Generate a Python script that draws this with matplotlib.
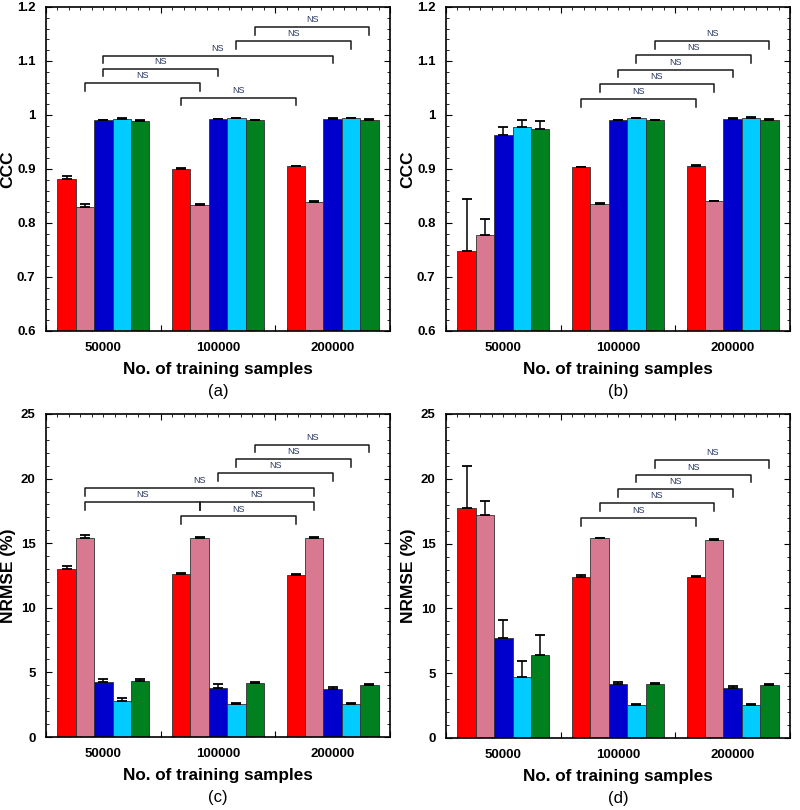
import numpy as np
import matplotlib
matplotlib.use('Agg')
import matplotlib.pyplot as plt

plt.rcParams['font.family'] = ['Liberation Sans', 'DejaVu Sans']

## dados
grupos = ['50000', '100000', '200000']
cores = ['#FF0000', '#D87891', '#0000CC', '#00CCFF', '#00801E']

# (a) CCC - linhas: metodos (vermelho, rosa, azul, ciano, verde), colunas: grupos
ccc_a = [[0.882, 0.900, 0.905],
         [0.830, 0.834, 0.839],
         [0.990, 0.992, 0.993],
         [0.993, 0.994, 0.994],
         [0.989, 0.990, 0.991]]
ccc_a_err = [[0.005, 0.002, 0.001],
             [0.006, 0.001, 0.001],
             [0.001, 0.001, 0.001],
             [0.001, 0.001, 0.001],
             [0.001, 0.001, 0.001]]

# (b) CCC
ccc_b = [[0.748, 0.903, 0.906],
         [0.777, 0.835, 0.840],
         [0.963, 0.990, 0.993],
         [0.978, 0.994, 0.995],
         [0.974, 0.990, 0.991]]
ccc_b_err = [[0.097, 0.001, 0.001],
             [0.030, 0.002, 0.001],
             [0.014, 0.001, 0.001],
             [0.012, 0.001, 0.001],
             [0.014, 0.001, 0.001]]

# (c) NRMSE
nrmse_c = [[13.04, 12.63, 12.53],
           [15.41, 15.41, 15.38],
           [4.28, 3.81, 3.74],
           [2.78, 2.53, 2.58],
           [4.33, 4.17, 4.02]]
nrmse_c_err = [[0.21, 0.10, 0.05],
               [0.21, 0.08, 0.08],
               [0.22, 0.26, 0.10],
               [0.22, 0.07, 0.05],
               [0.18, 0.10, 0.08]]

# (d) NRMSE
nrmse_d = [[17.74, 12.46, 12.44],
           [17.20, 15.41, 15.31],
           [7.74, 4.18, 3.82],
           [4.67, 2.54, 2.51],
           [6.38, 4.18, 4.10]]
nrmse_d_err = [[3.26, 0.10, 0.05],
               [1.06, 0.03, 0.07],
               [1.39, 0.12, 0.18],
               [1.30, 0.05, 0.08],
               [1.57, 0.05, 0.08]]

# comparacoes NS: (grupo inicial, grupo final, metodo, altura)
ns_a = [(1, 2, 4, 1.163), (1, 2, 3, 1.137), (0, 2, 2, 1.110),
        (0, 1, 2, 1.086), (0, 1, 1, 1.059), (1, 2, 0, 1.032)]
ns_b = [(1, 2, 4, 1.137), (1, 2, 3, 1.111), (1, 2, 2, 1.084),
        (1, 2, 1, 1.057), (1, 2, 0, 1.030)]
ns_c = [(1, 2, 4, 22.63), (1, 2, 3, 21.52), (1, 2, 2, 20.41),
        (0, 2, 1, 19.28), (0, 1, 1, 18.20), (1, 2, 1, 18.20), (1, 2, 0, 17.07)]
ns_d = [(1, 2, 4, 21.46), (1, 2, 3, 20.33), (1, 2, 2, 19.23),
        (1, 2, 1, 18.13), (1, 2, 0, 16.97)]

largura = 0.16


def painel(ax, medias, erros, ns, ylim, passo, minor, ylabel, letra):
    x = np.arange(len(grupos))
    for i in range(len(medias)):
        pos = x + (i - 2) * largura
        ax.bar(pos, medias[i], largura, color=cores[i], edgecolor='#333333', linewidth=0.6, zorder=2)
        ax.errorbar(pos, medias[i], yerr=[np.zeros(3), erros[i]], fmt='none', ecolor='black',
                    elinewidth=1.1, capsize=3.3, capthick=1.3, zorder=3)

    faixa = ylim[1] - ylim[0]
    for g1, g2, m, y in ns:
        x1 = g1 + (m - 2) * largura
        x2 = g2 + (m - 2) * largura
        d = 0.024 * faixa
        ax.plot([x1, x1, x2, x2], [y - d, y, y, y - d], color='#1a1a1a', lw=1.1, zorder=4)
        ax.text((x1 + x2) / 2, y + 0.009 * faixa, 'NS', ha='center', va='bottom',
                fontsize=6.5, color='#26365f')

    ax.set_xlim(-0.5, 2.45)
    ax.set_ylim(*ylim)
    ax.set_yticks(np.arange(ylim[0], ylim[1] + passo / 2, passo))
    ax.set_yticks(np.arange(ylim[0], ylim[1] + minor / 2, minor), minor=True)
    if passo < 1:
        ax.set_yticklabels(['%g' % v for v in np.round(np.arange(ylim[0], ylim[1] + passo / 2, passo), 2)])
    ax.set_xticks([-0.5, 0.5, 1.5, 2.5])
    ax.set_xticklabels([])
    ax.set_xticks(np.arange(-0.5, 2.46, 0.1), minor=True)
    ax.tick_params(axis='both', which='major', direction='in', length=4, width=0.8,
                   top=True, right=True, labelsize=9.5, pad=7.5)
    ax.tick_params(axis='both', which='minor', direction='in', length=2.2, width=0.6,
                   top=True, right=True)
    for lbl in ax.get_yticklabels():
        lbl.set_fontweight('bold')

    # rotulos dos grupos
    sec = ax.secondary_xaxis('bottom')
    sec.set_xticks(x, grupos)
    sec.tick_params(length=0, labelsize=9.5, pad=8)
    sec.spines['bottom'].set_visible(False)
    for lbl in sec.get_xticklabels():
        lbl.set_fontweight('bold')

    for s in ax.spines.values():
        s.set_linewidth(1.2)

    ax.set_ylabel(ylabel, fontsize=12.5, fontweight='bold')
    ax.yaxis.set_label_coords(-0.088, 0.5)
    ax.set_xlabel('No. of training samples', fontsize=12.3, fontweight='bold')
    ax.xaxis.set_label_coords(0.5, -0.097)
    ax.text(0.5, -0.188, letra, transform=ax.transAxes, ha='center', va='center', fontsize=12)


fig = plt.figure(figsize=(8, 8.1), dpi=100)
ax_a = fig.add_axes([0.0575, 0.5914, 0.43, 0.4])
ax_b = fig.add_axes([0.5575, 0.5914, 0.43, 0.4])
ax_c = fig.add_axes([0.0575, 0.0901, 0.43, 0.3988])
ax_d = fig.add_axes([0.5575, 0.0889, 0.43, 0.4])

painel(ax_a, ccc_a, ccc_a_err, ns_a, (0.6, 1.2), 0.1, 0.02, 'CCC', '(a)')
painel(ax_b, ccc_b, ccc_b_err, ns_b, (0.6, 1.2), 0.1, 0.02, 'CCC', '(b)')
painel(ax_c, nrmse_c, nrmse_c_err, ns_c, (0, 25), 5, 1, 'NRMSE (%)', '(c)')
painel(ax_d, nrmse_d, nrmse_d_err, ns_d, (0, 25), 5, 1, 'NRMSE (%)', '(d)')

plt.savefig('out.png', dpi=100)
